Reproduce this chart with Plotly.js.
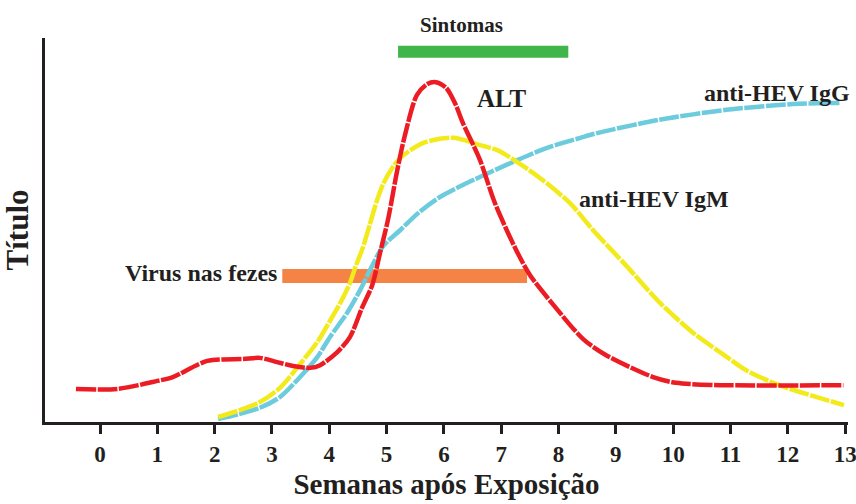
<!DOCTYPE html>
<html>
<head>
<meta charset="utf-8">
<script src="https://cdn.plot.ly/plotly-3.0.1.min.js"></script>
<style>html,body{margin:0;padding:0;background:#fff;}#chart{width:856px;height:504px;}</style>
</head>
<body>
<div id="chart"></div>
<script>
// Weeks after exposure (x) and relative titre (y, arbitrary 0-100 scale)
const altWeeks = [-0.42, 0.30, 1.00, 1.27, 1.87, 2.50, 2.79, 3.09, 3.37, 3.67, 3.84, 4.14, 4.36, 4.57, 4.75, 4.89, 5.03, 5.18, 5.32, 5.53, 5.71, 5.86, 6.04, 6.20, 6.33, 6.63, 6.89, 7.26, 7.50, 7.91, 8.43, 8.83, 9.65, 10.05, 10.82, 12.97];
const altValues = [8.6, 8.6, 10.7, 11.7, 15.9, 16.4, 16.7, 15.6, 14.6, 14.1, 14.8, 18.2, 22.1, 29.7, 35.7, 44.3, 53.1, 65.1, 74.7, 85.2, 88.0, 88.5, 87.0, 82.8, 77.9, 68.2, 57.0, 44.8, 38.3, 30.5, 21.6, 17.4, 11.7, 10.2, 9.6, 9.6];

const igmWeeks = [2.06, 2.44, 2.79, 3.14, 3.49, 3.79, 4.01, 4.22, 4.36, 4.45, 4.59, 4.71, 4.83, 4.94, 5.10, 5.24, 5.64, 6.16, 6.63, 6.93, 7.28, 7.68, 8.20, 8.60, 9.20, 9.77, 10.35, 10.94, 11.27, 11.85, 12.98];
const igmValues = [1.3, 3.1, 5.2, 8.9, 15.1, 20.8, 26.3, 31.8, 36.2, 40.1, 45.6, 51.6, 57.6, 62.0, 66.2, 68.8, 72.7, 74.0, 72.1, 70.8, 67.7, 63.5, 57.0, 50.0, 40.4, 31.0, 23.2, 16.9, 13.5, 9.6, 4.4];

const iggWeeks = [2.06, 2.44, 2.79, 3.14, 3.49, 3.79, 4.01, 4.31, 4.54, 4.71, 4.94, 5.24, 5.55, 5.93, 6.51, 7.28, 7.80, 8.38, 8.69, 9.76, 10.93, 12.09, 12.90];
const iggValues = [0.8, 2.1, 3.7, 6.5, 11.7, 16.9, 22.1, 28.4, 34.4, 39.6, 45.8, 50.0, 54.4, 58.6, 63.0, 68.2, 71.4, 74.0, 75.3, 78.7, 81.3, 82.8, 83.1];

const symptomsWeeks = [5.2, 8.17];
const symptomsLevel = 96.4;
const stoolVirusWeeks = [3.18, 7.45];
const stoolVirusLevel = 38;

const tickWeeks = [0,1,2,3,4,5,6,7,8,9,10,11,12,13];
const tickLabels = tickWeeks.map(String);

const labels = {
  symptoms: 'Sintomas', stool: 'Virus nas fezes', alt: 'ALT',
  igg: 'anti-HEV IgG', igm: 'anti-HEV IgM',
  xTitle: 'Semanas após Exposição', yTitle: 'Título'
};

const serif = 'Liberation Serif';
const ink = '#231F20';
const dash = '20px,1.5px';

const traces = [
  {x: symptomsWeeks, y: symptomsWeeks.map(() => symptomsLevel), mode: 'lines',
   line: {color: '#3FB54A', width: 12}, hoverinfo: 'skip'},
  {x: stoolVirusWeeks, y: stoolVirusWeeks.map(() => stoolVirusLevel), mode: 'lines',
   line: {color: '#F58346', width: 14}, hoverinfo: 'skip'},
  {x: iggWeeks, y: iggValues, mode: 'lines',
   line: {color: '#6CCBDC', width: 4.5, shape: 'spline', smoothing: 0.8, dash: dash}},
  {x: igmWeeks, y: igmValues, mode: 'lines',
   line: {color: '#F3EA1B', width: 4.5, shape: 'spline', smoothing: 0.8, dash: dash}},
  {x: altWeeks, y: altValues, mode: 'lines',
   line: {color: '#EC1C24', width: 4.5, shape: 'spline', smoothing: 0.8, dash: dash}}
];

function ann(text, x, y, size, xanchor, yref) {
  return {text: text, x: x, y: y, xref: 'x', yref: yref || 'y', showarrow: false,
          xanchor: xanchor || 'center', yanchor: 'middle',
          font: {family: serif, size: size, color: ink, weight: 'bold'}};
}

const layout = {
  width: 856, height: 504,
  margin: {l: 45, r: 8, t: 38, b: 82},
  paper_bgcolor: '#fff', plot_bgcolor: '#fff',
  showlegend: false,
  font: {family: serif, color: ink},
  xaxis: {
    range: [-0.96, 13.05], showgrid: false, zeroline: false,
    showline: true, linewidth: 3, linecolor: ink,
    ticks: 'outside', ticklen: 9, tickwidth: 3, tickcolor: ink,
    tickvals: tickWeeks, ticktext: tickLabels, ticklabeloverflow: 'allow',
    tickfont: {family: serif, size: 23, color: ink, weight: 'bold'},
    title: {text: labels.xTitle, standoff: 9,
            font: {family: serif, size: 29, color: ink, weight: 'bold'}}
  },
  yaxis: {
    range: [0, 100], showgrid: false, zeroline: false,
    showline: true, linewidth: 3, linecolor: ink,
    showticklabels: false, ticks: '',
    title: {text: labels.yTitle, standoff: 6,
            font: {family: serif, size: 31, color: ink, weight: 'bold'}}
  },
  annotations: [
    ann(labels.symptoms, 6.30, 1.033, 21, 'center', 'paper'),
    ann(labels.stool, 3.13, 38.9, 24, 'right'),
    ann(labels.alt, 6.54, 84.3, 25, 'left'),
    ann(labels.igg, 10.50, 85.8, 24, 'left'),
    ann(labels.igm, 8.32, 58.2, 24, 'left')
  ]
};

Plotly.newPlot('chart', traces, layout, {displayModeBar: false, staticPlot: true});
</script>
</body>
</html>
